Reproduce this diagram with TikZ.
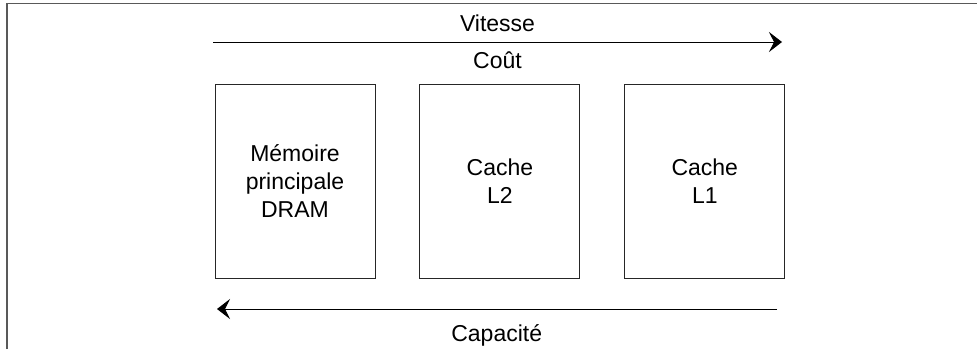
\documentclass[tikz,border=0pt]{standalone}
\usepackage{fontspec}
\setmainfont{Liberation Sans}
\usetikzlibrary{positioning,arrows.meta}

\begin{document}
\begin{tikzpicture}[x=1pt,y=-1pt,
    every node/.style={font=\fontsize{23}{28}\selectfont},
    bloc/.style={draw=black!85,line width=0.9pt,minimum width=160pt,minimum height=194pt,align=center,inner sep=0pt},
    lbl/.style={anchor=base},
    fl/.style={line width=1pt,-{Stealth[length=13pt,width=20pt,inset=5pt]}}]
    \useasboundingbox (0,0) rectangle (977,349);
    \draw[black!65,line width=1.3pt] (7,349) -- (7,3.5) -- (977,3.5);
    % niveaux de memoire
    \node[bloc] (dram) at (295,181) {Mémoire\\principale\\DRAM};
    \node[bloc] (l2) [right=44pt of dram] {Cache\\L2};
    \node[bloc] (l1) [right=44pt of l2] {Cache\\L1};
    % vitesse et cout
    \coordinate (v0) at (213,42);
    \coordinate (v1) at (782,42);
    \draw[fl] (v0) -- (v1);
    \node[lbl] (vit) at (497.5,31.7) {Vitesse};
    \node[lbl] (cout) at (497.5,68.3) {Coût};
    % capacite
    \coordinate (c0) at (777,309);
    \coordinate (c1) at (217,309);
    \draw[fl] (c0) -- (c1);
    \node[lbl] (cap) at (496.7,341.7) {Capacité};
\end{tikzpicture}
\end{document}
